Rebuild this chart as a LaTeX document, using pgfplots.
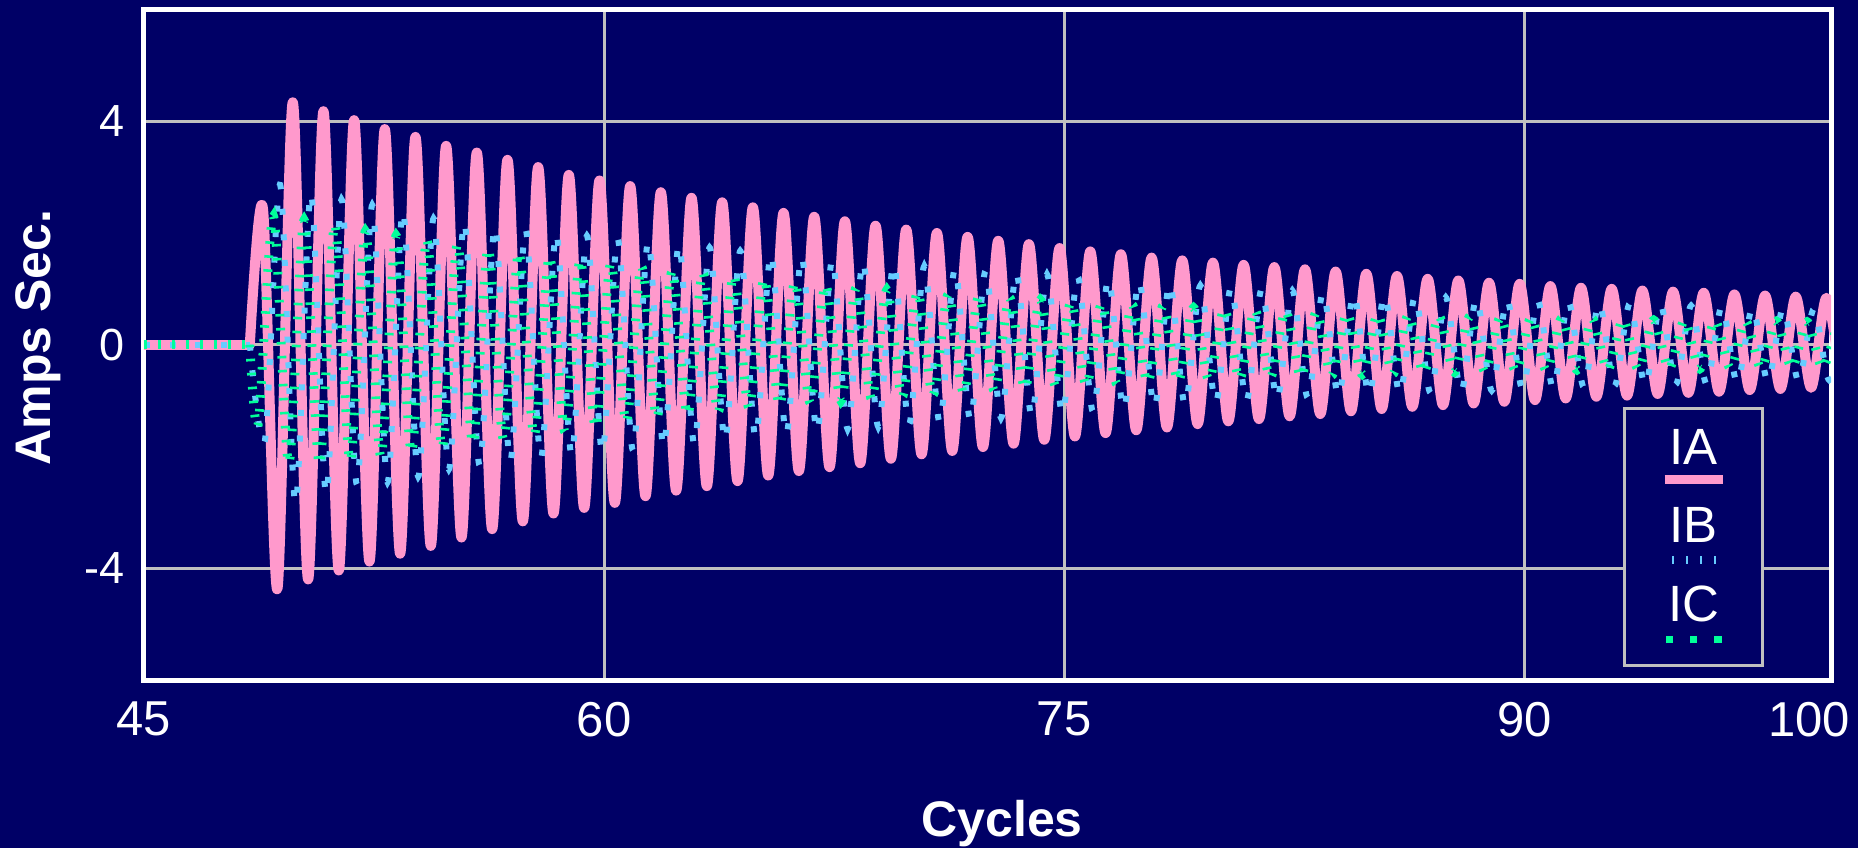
\documentclass[border=0pt]{standalone}
\usepackage{fontspec}
\setmainfont{Liberation Sans}
\usepackage{pgfplots}
\pgfplotsset{compat=1.18}

\definecolor{bgnavy}{RGB}{0,0,102}
\definecolor{iapink}{RGB}{255,153,204}
\definecolor{ibblue}{RGB}{102,204,255}
\definecolor{icgreen}{RGB}{0,255,153}
\definecolor{gridgray}{RGB}{192,192,192}

\pgfplotsset{
  ia style/.style={iapink, line width=5pt, line join=round, line cap=round},
  ib style/.style={ibblue, line width=3pt, dash pattern=on 3pt off 9.8pt},
  ic style/.style={icgreen, line width=4.5pt, dash pattern=on 1.3pt off 5.7pt},
}

% legend cell: name on top, line sample below it
% #1 name, #2 kern above sample, #3 sample, #4 kern below sample
\newcommand\legcell[4]{\vbox{\offinterlineskip
  \hbox to 69pt{\hss\vrule width 0pt height 22.6pt #1\hss}%
  \kern#2\relax
  \hbox to 69pt{\hss #3\hss}%
  \kern#4\relax}}

\begin{document}
\begin{tikzpicture}
% page background
\fill[bgnavy] (-72pt,-84pt) rectangle (857pt,340pt);
\begin{axis}[
  at={(0pt,0pt)}, anchor=south west,
  scale only axis, width=843.5pt, height=335.25pt,
  xmin=45, xmax=100, ymin=-6, ymax=6,
  xtick={45,60,75,90,100},
  xticklabels={45,60,75,90,\hspace*{-22pt}100},
  ytick={-4,0,4}, yticklabels={-4,0,4},
  major tick length=0pt,
  grid=major,
  major grid style={gridgray, line width=1.5pt},
  axis line style={white, line width=2.5pt},
  xticklabel style={font=\fontsize{24.5}{29}\selectfont, text=white,
    inner sep=0pt, anchor=north, yshift=-10.85pt},
  yticklabel style={font=\fontsize{22.5}{27}\selectfont, text=white,
    inner sep=0pt, anchor=east, xshift=-9.4pt},
  xlabel={Cycles}, ylabel={Amps Sec.},
  xlabel style={font=\bfseries\fontsize{25}{30}\selectfont, text=white,
    at={(axis description cs:0.5086,0)}, anchor=base, yshift=-78pt},
  ylabel style={font=\bfseries\fontsize{25}{30}\selectfont, text=white,
    at={(axis description cs:-0.0553,0.511)}, anchor=base},
  legend plot pos=none,
  legend style={
    at={(rel axis cs:0.9603,0.0198)}, anchor=south east,
    draw=gridgray, line width=1.5pt, fill=bgnavy,
    inner xsep=0pt, inner ysep=5pt,
    row sep=0pt, column sep=0pt,
    font=\fontsize{25.5}{30}\selectfont, text=white,
    cells={anchor=center},
    nodes={inner sep=0pt, text depth=0pt},
  },
]

% ---------------- IA ----------------
\addplot[ia style, forget plot] coordinates {(45,0) (48.45,0)};
\addplot[ia style, smooth]
coordinates {
(48.45,0) (48.88,2.43)
(49.35,-4.37) (49.85,4.34)
(50.35,-4.20) (50.85,4.18)
(51.35,-4.04) (51.85,4.02)
(52.35,-3.88) (52.85,3.86)
(53.35,-3.74) (53.85,3.72)
(54.35,-3.60) (54.85,3.56)
(55.35,-3.45) (55.85,3.44)
(56.35,-3.30) (56.85,3.31)
(57.35,-3.16) (57.85,3.18)
(58.35,-3.02) (58.85,3.04)
(59.35,-2.92) (59.85,2.94)
(60.35,-2.83) (60.85,2.84)
(61.35,-2.71) (61.85,2.73)
(62.35,-2.61) (62.85,2.63)
(63.35,-2.53) (63.85,2.55)
(64.35,-2.44) (64.85,2.46)
(65.35,-2.34) (65.85,2.36)
(66.35,-2.26) (66.85,2.29)
(67.35,-2.19) (67.85,2.21)
(68.35,-2.12) (68.85,2.13)
(69.35,-2.04) (69.85,2.06)
(70.35,-1.96) (70.85,2.00)
(71.35,-1.90) (71.85,1.93)
(72.35,-1.83) (72.85,1.86)
(73.35,-1.77) (73.85,1.80)
(74.35,-1.70) (74.85,1.73)
(75.35,-1.64) (75.85,1.67)
(76.35,-1.58) (76.85,1.62)
(77.35,-1.53) (77.85,1.56)
(78.35,-1.48) (78.85,1.51)
(79.35,-1.42) (79.85,1.47)
(80.35,-1.37) (80.85,1.43)
(81.35,-1.33) (81.85,1.39)
(82.35,-1.28) (82.85,1.35)
(83.35,-1.24) (83.85,1.31)
(84.35,-1.19) (84.85,1.27)
(85.35,-1.15) (85.85,1.23)
(86.35,-1.11) (86.85,1.18)
(87.35,-1.08) (87.85,1.15)
(88.35,-1.05) (88.85,1.11)
(89.35,-1.02) (89.85,1.09)
(90.35,-0.99) (90.85,1.05)
(91.35,-0.96) (91.85,1.02)
(92.35,-0.93) (92.85,1.00)
(93.35,-0.91) (93.85,0.97)
(94.35,-0.88) (94.85,0.95)
(95.35,-0.86) (95.85,0.93)
(96.35,-0.84) (96.85,0.90)
(97.35,-0.81) (97.85,0.88)
(98.35,-0.79) (98.85,0.86)
(99.35,-0.77) (99.85,0.84)
(100.35,-0.76)
};
\addlegendentry{\legcell{IA}{5.65pt}{\color{iapink}\rule{29pt}{4.5pt}}{6.55pt}}

% ---------------- IB ----------------
\addplot[ib style, forget plot] coordinates {(45,0) (48.45,0)};
\addplot[ib style, smooth]
coordinates {
(48.45,0) (48.94,-1.72)
(49.44,2.86) (49.94,-2.85)
(50.44,2.72) (50.94,-2.68)
(51.44,2.60) (51.94,-2.50)
(52.44,2.50) (52.94,-2.46)
(53.44,2.40) (53.94,-2.36)
(54.44,2.26) (54.94,-2.23)
(55.44,2.20) (55.94,-2.16)
(56.44,2.12) (56.94,-2.09)
(57.44,2.06) (57.94,-2.03)
(58.44,2.00) (58.94,-1.98)
(59.44,1.95) (59.94,-1.93)
(60.44,1.90) (60.94,-1.89)
(61.44,1.86) (61.94,-1.83)
(62.44,1.80) (62.94,-1.78)
(63.44,1.74) (63.94,-1.72)
(64.44,1.68) (64.94,-1.66)
(65.44,1.63) (65.94,-1.61)
(66.44,1.58) (66.94,-1.56)
(67.44,1.53) (67.94,-1.51)
(68.44,1.49) (68.94,-1.47)
(69.44,1.45) (69.94,-1.43)
(70.44,1.41) (70.94,-1.39)
(71.44,1.37) (71.94,-1.35)
(72.44,1.33) (72.94,-1.31)
(73.44,1.29) (73.94,-1.28)
(74.44,1.26) (74.94,-1.24)
(75.44,1.22) (75.94,-1.20)
(76.44,1.18) (76.94,-1.16)
(77.44,1.14) (77.94,-1.12)
(78.44,1.10) (78.94,-1.08)
(79.44,1.06) (79.94,-1.04)
(80.44,1.03) (80.94,-1.01)
(81.44,1.00) (81.94,-0.98)
(82.44,0.97) (82.94,-0.95)
(83.44,0.94) (83.94,-0.92)
(84.44,0.91) (84.94,-0.90)
(85.44,0.89) (85.94,-0.88)
(86.44,0.87) (86.94,-0.86)
(87.44,0.85) (87.94,-0.84)
(88.44,0.83) (88.94,-0.82)
(89.44,0.81) (89.94,-0.80)
(90.44,0.79) (90.94,-0.78)
(91.44,0.77) (91.94,-0.76)
(92.44,0.75) (92.94,-0.74)
(93.44,0.74) (93.94,-0.73)
(94.44,0.72) (94.94,-0.71)
(95.44,0.70) (95.94,-0.70)
(96.44,0.69) (96.94,-0.68)
(97.44,0.67) (97.94,-0.66)
(98.44,0.66) (98.94,-0.65)
(99.44,0.64) (99.94,-0.63)
(100.44,0.62)
};
\addlegendentry{\legcell{IB}{6.8pt}{\color{ibblue}%
  \rule{1pt}{3.7pt}\hspace{6pt}\rule{1pt}{3.7pt}\hspace{6pt}%
  \rule{1pt}{3.7pt}\hspace{6pt}\rule{1pt}{3.7pt}}{6.2pt}}

% ---------------- IC ----------------
\addplot[ic style, forget plot] coordinates {(45,0) (48.45,0)};
\addplot[ic style, smooth]
coordinates {
(48.45,0) (48.72,-1.43)
(49.22,2.30) (49.72,-2.12)
(50.22,2.23) (50.72,-2.14)
(51.22,2.15) (51.72,-2.08)
(52.22,2.03) (52.72,-2.00)
(53.22,1.95) (53.72,-1.92)
(54.22,1.88) (54.72,-1.84)
(55.22,1.80) (55.72,-1.76)
(56.22,1.72) (56.72,-1.69)
(57.22,1.65) (57.72,-1.62)
(58.22,1.58) (58.72,-1.55)
(59.22,1.52) (59.72,-1.48)
(60.22,1.46) (60.72,-1.38)
(61.22,1.40) (61.72,-1.30)
(62.22,1.32) (62.72,-1.25)
(63.22,1.29) (63.72,-1.20)
(64.22,1.24) (64.72,-1.12)
(65.22,1.18) (65.72,-1.08)
(66.22,1.12) (66.72,-1.04)
(67.22,1.07) (67.72,-1.00)
(68.22,1.02) (68.72,-0.97)
(69.22,0.98) (69.72,-0.93)
(70.22,0.94) (70.72,-0.90)
(71.22,0.90) (71.72,-0.86)
(72.22,0.87) (72.72,-0.82)
(73.22,0.84) (73.72,-0.78)
(74.22,0.80) (74.72,-0.74)
(75.22,0.76) (75.72,-0.72)
(76.22,0.73) (76.72,-0.70)
(77.22,0.71) (77.72,-0.67)
(78.22,0.69) (78.72,-0.65)
(79.22,0.66) (79.72,-0.63)
(80.22,0.64) (80.72,-0.61)
(81.22,0.62) (81.72,-0.59)
(82.22,0.60) (82.72,-0.57)
(83.22,0.58) (83.72,-0.55)
(84.22,0.56) (84.72,-0.53)
(85.22,0.54) (85.72,-0.52)
(86.22,0.53) (86.72,-0.50)
(87.22,0.51) (87.72,-0.49)
(88.22,0.50) (88.72,-0.48)
(89.22,0.49) (89.72,-0.47)
(90.22,0.48) (90.72,-0.46)
(91.22,0.47) (91.72,-0.45)
(92.22,0.46) (92.72,-0.45)
(93.22,0.45) (93.72,-0.44)
(94.22,0.44) (94.72,-0.43)
(95.22,0.43) (95.72,-0.43)
(96.22,0.43) (96.72,-0.42)
(97.22,0.42) (97.72,-0.42)
(98.22,0.42) (98.72,-0.41)
(99.22,0.41) (99.72,-0.41)
(100.22,0.40)
};
\addlegendentry{\legcell{IC}{6.95pt}{\color{icgreen}%
  \rule{3.8pt}{3.8pt}\hspace{8.3pt}\rule{3.8pt}{3.8pt}\hspace{8.3pt}%
  \rule{3.8pt}{3.8pt}}{5.95pt}}

\end{axis}
\pgfresetboundingbox
\useasboundingbox (-72pt,-84pt) rectangle (857pt,340pt);
\end{tikzpicture}
\end{document}
